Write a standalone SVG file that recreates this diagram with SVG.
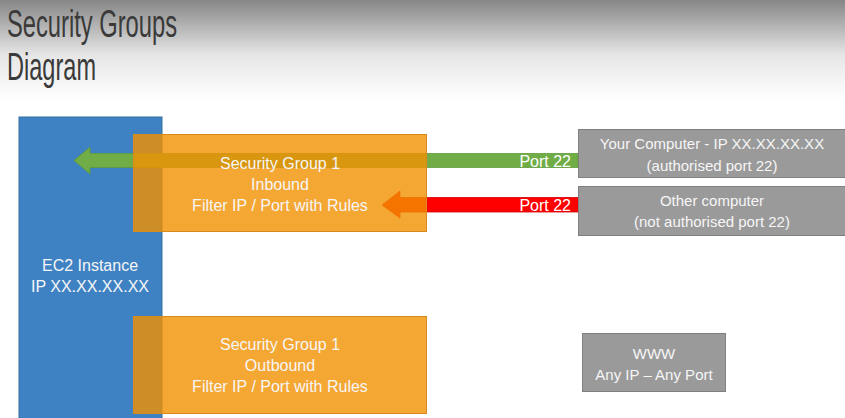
<svg xmlns="http://www.w3.org/2000/svg" width="845" height="418" viewBox="0 0 845 418">
<defs>
<linearGradient id="bg" x1="0" y1="0" x2="0" y2="1">
<stop offset="0" stop-color="#868686"/>
<stop offset="0.55" stop-color="#e6e6e6"/>
<stop offset="1" stop-color="#ffffff"/>
</linearGradient>
<style>
.title{font-family:"Liberation Sans",Arial,sans-serif;font-size:39px;fill:#3a3a3a}
.t{font-family:"Liberation Sans",Arial,sans-serif;font-size:16px;fill:#f6f6f6;text-anchor:middle}
.tg{font-family:"Liberation Sans",Arial,sans-serif;font-size:15px;fill:#f6f6f6;text-anchor:middle}
.port{font-family:"Liberation Sans",Arial,sans-serif;font-size:16px;fill:#ffffff;text-anchor:end}
.sg{fill:#f29100;fill-opacity:0.8;stroke:#d98a1e;stroke-width:1}
.gray{fill:#9a9a9a;stroke:#808080;stroke-width:1}
</style>
</defs>
<rect x="0" y="0" width="845" height="100" fill="url(#bg)"/>
<rect x="0" y="100" width="845" height="318" fill="#ffffff"/>
<g id="title">
<text class="title" x="7" y="37" textLength="170" lengthAdjust="spacingAndGlyphs">Security Groups</text>
<text class="title" x="7" y="80" textLength="89" lengthAdjust="spacingAndGlyphs">Diagram</text>
</g>
<g id="ec2">
<rect x="19" y="117" width="143" height="310" fill="#3f82c4" stroke="#35709f" stroke-width="1"/>
<text class="t" x="90" y="271">EC2 Instance</text>
<text class="t" x="90" y="292">IP XX.XX.XX.XX</text>
</g>
<g id="connectors">
<polygon points="74,160.5 90,147 90,153.5 578,153.5 578,167.5 90,167.5 90,174" fill="#70ad47" stroke="#5e9a3a" stroke-width="0.8"/>
<polygon points="382,205 400,191 400,197.5 578,197.5 578,212 400,212 400,218" fill="#ff0000" stroke="#d40000" stroke-width="0.8"/>
</g>
<g id="sg-inbound">
<rect class="sg" x="133.5" y="134.5" width="293" height="97"/>
<text class="t" x="280" y="169">Security Group 1</text>
<text class="t" x="280" y="190">Inbound</text>
<text class="t" x="280" y="211">Filter IP / Port with Rules</text>
</g>
<g id="sg-outbound">
<rect class="sg" x="133.5" y="316.5" width="293" height="97"/>
<text class="t" x="280" y="350">Security Group 1</text>
<text class="t" x="280" y="371">Outbound</text>
<text class="t" x="280" y="392">Filter IP / Port with Rules</text>
</g>
<g id="labels">
<text class="port" x="571" y="167">Port 22</text>
<text class="port" x="571" y="211">Port 22</text>
</g>
<g id="your-computer">
<rect class="gray" x="578.5" y="129.5" width="270" height="48"/>
<text class="tg" x="712" y="149">Your Computer - IP XX.XX.XX.XX</text>
<text class="tg" x="712" y="171">(authorised port 22)</text>
</g>
<g id="other-computer">
<rect class="gray" x="578.5" y="186.5" width="270" height="49"/>
<text class="tg" x="712" y="206">Other computer</text>
<text class="tg" x="712" y="227">(not authorised port 22)</text>
</g>
<g id="www">
<rect class="gray" x="582.5" y="333.5" width="143" height="58"/>
<text class="tg" x="654" y="359">WWW</text>
<text class="tg" x="654" y="380">Any IP – Any Port</text>
</g>
</svg>
